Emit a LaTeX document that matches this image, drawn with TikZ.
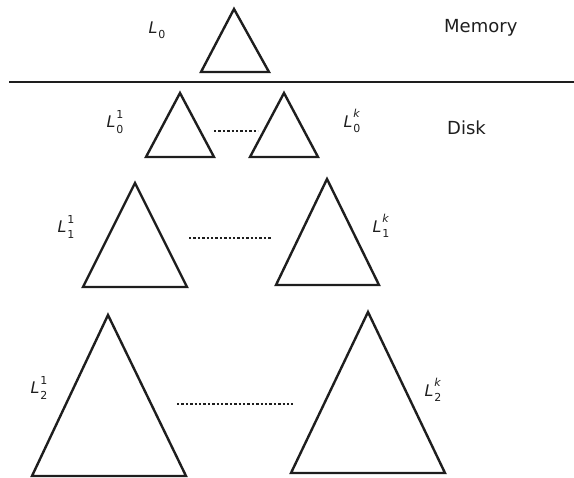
\documentclass[tikz,border=0pt]{standalone}
\usepackage{fontspec}
\setmainfont{DejaVu Sans}
\definecolor{ink}{HTML}{1E1E1E}
\newcommand{\levlab}[2]{\textit{L}\kern0.8pt\rlap{\raisebox{1.05ex}{\fontsize{11}{12}\selectfont #2}}\raisebox{-0.6ex}{\fontsize{11}{12}\selectfont #1}}
\tikzset{
  tri/.style={draw=ink, line width=2.4pt, line join=miter},
  dots/.style={draw=ink, line width=2.4pt, dash pattern=on 2.4pt off 2pt},
  lab/.style={inner sep=0pt, text=ink, font=\fontsize{16}{18}\selectfont},
  word/.style={inner sep=0pt, text=ink, font=\fontsize{18}{20}\selectfont, anchor=base west}
}
\begin{document}
\begin{tikzpicture}[x=1pt,y=-1pt]
\useasboundingbox (0,0) rectangle (574,478);
% separator
\draw[draw=ink, line width=2.4pt] (9,82) -- (574,82);
% triangles
\draw[tri] (234,9) -- (269,72) -- (201,72) -- cycle;
\draw[tri] (180,93) -- (214,157) -- (146,157) -- cycle;
\draw[tri] (284,93) -- (318,157) -- (250,157) -- cycle;
\draw[tri] (135,183) -- (187,287) -- (83,287) -- cycle;
\draw[tri] (327,179) -- (379,285) -- (276,285) -- cycle;
\draw[tri] (108,315) -- (186,476) -- (32,476) -- cycle;
\draw[tri] (368,312) -- (445,473) -- (291,473) -- cycle;
% dotted connectors
\coordinate (d0a) at (214,131); \coordinate (d0b) at (258,131);
\coordinate (d1a) at (189,238); \coordinate (d1b) at (272,238);
\coordinate (d2a) at (177,404); \coordinate (d2b) at (293,404);
\draw[dots] (d0a) -- (d0b);
\draw[dots] (d1a) -- (d1b);
\draw[dots] (d2a) -- (d2b);
% labels
\node[lab] (l0) at (157,30) {\textit{L}\kern0.8pt\raisebox{-0.6ex}{\fontsize{11}{12}\selectfont 0}};
\node[lab] (l01) at (115,122) {\levlab{0}{1}};
\node[lab] (l0k) at (352,121) {\levlab{0}{\textit{k}}};
\node[lab] (l11) at (66,227) {\levlab{1}{1}};
\node[lab] (l1k) at (381,226) {\levlab{1}{\textit{k}}};
\node[lab] (l21) at (39,388) {\levlab{2}{1}};
\node[lab] (l2k) at (433,390) {\levlab{2}{\textit{k}}};
\node[word] (mem) at (444,33) {Memory};
\node[word] (disk) at (447,135) {Disk};
\end{tikzpicture}
\end{document}
